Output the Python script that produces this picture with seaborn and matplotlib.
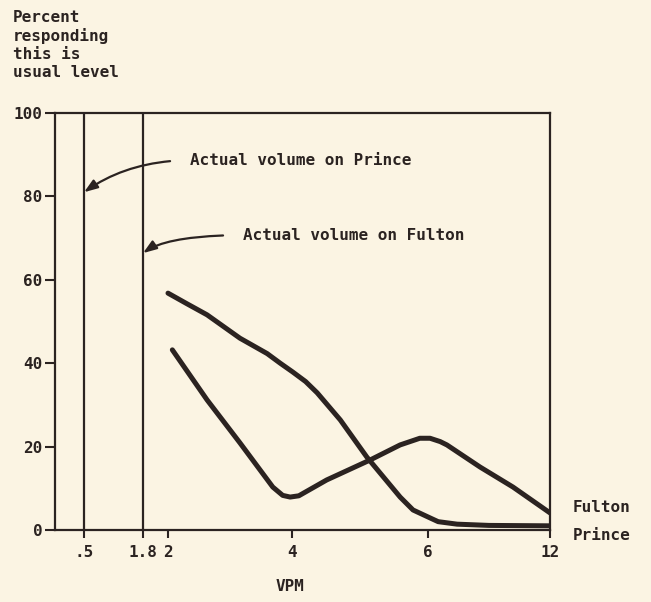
import numpy as np
import pandas as pd
import matplotlib
matplotlib.use('Agg')
import matplotlib.pyplot as plt
import seaborn as sns

# x axis of the original is hand-spaced, not linear
scale_values = [0, 0.5, 1.8, 2, 4, 6, 12]
scale_positions = [0, 29, 88, 113, 237, 373, 495]

x_ticks = [0.5, 1.8, 2, 4, 6, 12]
x_tick_labels = ['.5', '1.8', '2', '4', '6', '12']
y_ticks = [0, 20, 40, 60, 80, 100]

prince_vpm = [2.0, 2.3, 2.63, 3.16, 3.6, 3.81, 4.01, 4.2, 4.37, 4.71, 5.10, 5.59, 5.78, 6.1, 6.5, 7.43, 9.0, 12.0]
prince_pct = [56.8, 54.3, 51.6, 46.0, 42.3, 40.0, 37.9, 35.6, 32.9, 26.4, 17.5, 7.9, 4.8, 2.9, 2.0, 1.4, 1.1, 1.0]

fulton_vpm = [2.07, 2.63, 3.16, 3.69, 3.85, 3.97, 4.1, 4.51, 5.15, 5.59, 5.88, 6.1, 6.6, 6.93, 8.56, 10.18, 12.0]
fulton_pct = [43.2, 31.2, 20.9, 10.3, 8.3, 7.9, 8.2, 12.0, 16.8, 20.4, 22.0, 22.0, 21.2, 20.4, 15.1, 10.3, 4.1]

actual_volume = {'Prince': 0.5, 'Fulton': 1.8}

df = pd.concat([
    pd.DataFrame({'vpm': prince_vpm, 'pct': prince_pct, 'street': 'Prince'}),
    pd.DataFrame({'vpm': fulton_vpm, 'pct': fulton_pct, 'street': 'Fulton'}),
])

ink = '#2b2321'
paper = '#fbf4e3'
fs = 11.5

sns.set_style('ticks')
plt.rcParams['font.family'] = ['DejaVu Sans Mono', 'DejaVu Sans']
plt.rcParams['font.weight'] = 'bold'

fig = plt.figure(figsize=(6.51, 6.02), dpi=100, facecolor=paper)
ax = fig.add_axes([55 / 651, 1 - 530 / 602, 495 / 651, 417 / 602], facecolor=paper)

fwd = lambda v: np.interp(v, scale_values, scale_positions)
inv = lambda p: np.interp(p, scale_positions, scale_values)
ax.set_xscale('function', functions=(fwd, inv))

sns.lineplot(data=df, x='vpm', y='pct', units='street', estimator=None,
             color=ink, linewidth=3.6, ax=ax, legend=False, solid_capstyle='round')

for v in actual_volume.values():
    ax.axvline(v, color=ink, linewidth=1.6)

ax.set_xlim(0, 12)
ax.set_ylim(0, 100)
ax.set_xticks(x_ticks)
ax.set_xticklabels(x_tick_labels)
ax.set_yticks(y_ticks)
ax.tick_params(axis='both', colors=ink, width=1.5, labelsize=fs)
ax.tick_params(axis='x', length=6, pad=5)
ax.tick_params(axis='y', length=7, pad=2)
for s in ax.spines.values():
    s.set_visible(True)
    s.set_color(ink)
    s.set_linewidth(1.6)

ax.set_xlabel('VPM', fontsize=fs, fontweight='bold', color=ink)
ax.xaxis.set_label_coords(235 / 495, -49 / 417)
ax.set_ylabel('')

fig.text(13 / 651, 1 - 10 / 602, 'Percent\nresponding\nthis is\nusual level',
         ha='left', va='top', fontsize=fs, fontweight='bold', color=ink, linespacing=1.25)

arrow = dict(arrowstyle='-|>,head_length=0.7,head_width=0.25', color=ink, lw=1.6,
             shrinkA=12, shrinkB=0, relpos=(0, 0.5))
ax.annotate('Actual volume on Prince', xy=(actual_volume['Prince'], 81),
            xytext=(106, 32), textcoords='offset pixels', ha='left', va='center',
            fontsize=fs, fontweight='bold', color=ink,
            arrowprops=dict(arrow, connectionstyle='angle3,angleA=0,angleB=35'))
ax.annotate('Actual volume on Fulton', xy=(actual_volume['Fulton'], 66.4),
            xytext=(100, 18), textcoords='offset pixels', ha='left', va='center',
            fontsize=fs, fontweight='bold', color=ink,
            arrowprops=dict(arrow, connectionstyle='angle3,angleA=0,angleB=35'))

ax.text(1.046, 5.3, 'Fulton', transform=ax.get_yaxis_transform(), ha='left', va='center',
        fontsize=fs, fontweight='bold', color=ink, clip_on=False)
ax.text(1.046, -1.2, 'Prince', transform=ax.get_yaxis_transform(), ha='left', va='center',
        fontsize=fs, fontweight='bold', color=ink, clip_on=False)

fig.savefig('out.png', dpi=100, facecolor=paper)
